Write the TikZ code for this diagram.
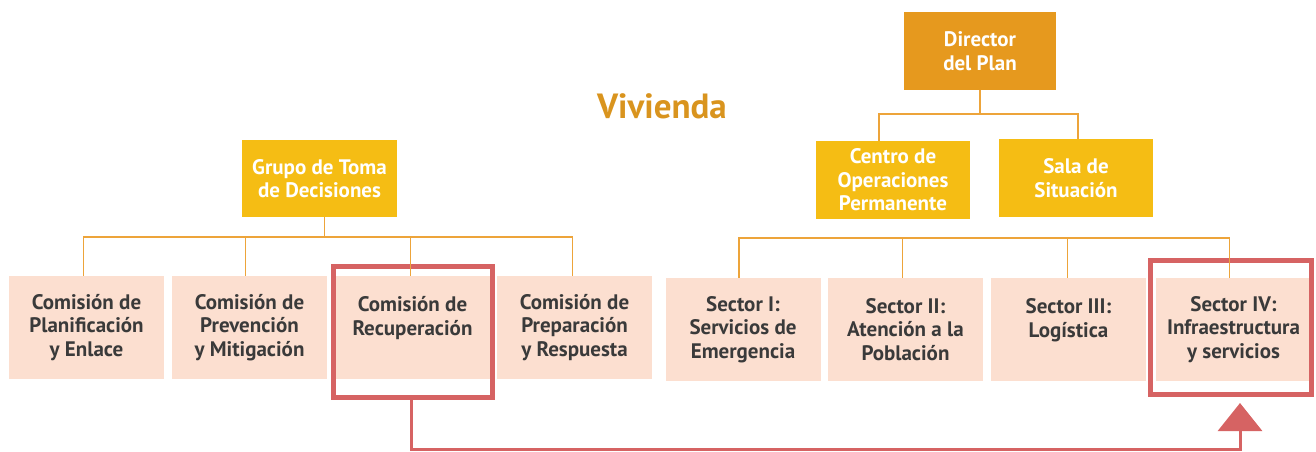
\documentclass[tikz,border=0pt]{standalone}
\usepackage{fontspec}
\setmainfont{PT Sans}
\usetikzlibrary{arrows.meta,calc}
\definecolor{dirc}{HTML}{E6991E}
\definecolor{goldc}{HTML}{F5BD14}
\definecolor{palec}{HTML}{FCDFD0}
\definecolor{connc}{HTML}{EDA43A}
\definecolor{hlred}{HTML}{D66363}
\definecolor{titlec}{HTML}{D9941E}
\definecolor{dtext}{HTML}{3A3A3A}
\begin{document}
\begin{tikzpicture}[x=1pt,y=-1pt,
  font=\bfseries\fontsize{21}{23.5}\selectfont,
  palebox/.style={fill=palec, text=dtext, minimum width=155pt, minimum height=103pt, inner sep=0pt, align=center},
  goldbox/.style={fill=goldc, text=white, minimum width=155pt, minimum height=78pt, inner sep=0pt, align=center},
  conn/.style={draw=connc, line width=1.5pt},
  hlbox/.style={draw=hlred, line width=5pt, inner sep=0pt},
  hlarrow/.style={draw=hlred, line width=3pt, -{Triangle[width=44pt,length=28pt]}},
  titlestyle/.style={text=titlec, font=\bfseries\fontsize{35}{40}\selectfont, inner sep=0pt}
]
\useasboundingbox (0,0) rectangle (1316,451);

\node[titlestyle] (title) at (662,106) {Vivienda};

\node[goldbox, fill=dirc, minimum width=152pt] (director) at (980,51) {Director\\del Plan};
\node[goldbox, minimum height=77pt] (grupo) at (319.5,178.5) {Grupo de Toma\\de Decisiones};
\node[goldbox, minimum width=154pt] (centro) at (893,180) {Centro de\\Operaciones\\Permanente};
\node[goldbox, minimum width=154pt] (sala) at (1076,178) {Sala de\\Situación};

\node[palebox] (c1) at (86.5,327.5) {Comisión de\\Planificación\\y Enlace};
\node[palebox] (c2) at (249.5,327.5) {Comisión de\\Prevención\\y Mitigación};
\node[palebox] (c3) at (412.5,327.5) {Comisión de\\Recuperación\\\mbox{}};
\node[palebox] (c4) at (574.5,327.5) {Comisión de\\Preparación\\y Respuesta};

\node[palebox] (s1) at (743,329.5) {Sector I:\\Servicios de\\Emergencia};
\node[palebox] (s2) at (905.5,329.5) {Sector II:\\Atención a la\\Población};
\node[palebox] (s3) at (1068.5,329.5) {Sector III:\\Logística\\\mbox{}};
\node[palebox] (s4) at (1233.5,329.5) {Sector IV:\\Infraestructura\\y servicios};

\node[hlbox, minimum width=159pt, minimum height=131pt] (hl1) at (413,332) {};
\node[hlbox, minimum width=161pt, minimum height=134pt] (hl2) at (1231,327.5) {};

% left tree
\draw[conn] ($(grupo.south)+(5,0)$) -- ++(0,20) coordinate (gj);
\draw[conn] ($(c1.north)+(-3,0)$) |- (gj) -| ($(c4.north)+(-2,0)$);
\draw[conn] ($(c2.north)+(-4,0)$) -- ($(c2.north)+(-4,-39)$);
\draw[conn] ($(c3.north)+(-2,0)$) -- ($(c3.north)+(-2,-39)$);

% right tree
\draw[conn] (director.south) -- ++(0,24) coordinate (dj);
\draw[conn] ($(centro.north)+(-14,0)$) |- (dj) -| ($(sala.north)+(2,0)$);
\draw[conn] ($(s1.north)+(-4,0)$) -- ++(0,-40) coordinate (sj) -| ($(s4.north)+(-4,0)$);
\draw[conn] ($(s2.north)+(-3,0)$) -- ($(s2.north)+(-3,-40)$);
\draw[conn] ($(s3.north)+(-1,0)$) -- ($(s3.north)+(-1,-40)$);

% highlight arrow
\coordinate (tip) at ($(hl2.south)+(9,6)$);
\draw[hlarrow] ($(hl1.south)+(-2,0)$) |- ($(tip)+(0,46)$) -- (tip);
\end{tikzpicture}
\end{document}
